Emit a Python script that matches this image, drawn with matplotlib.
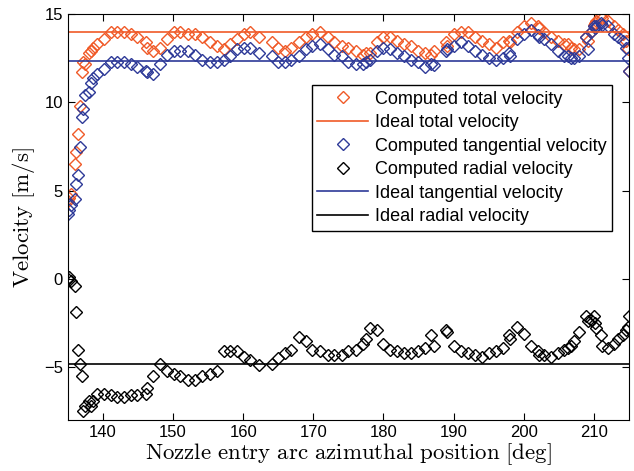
import matplotlib
matplotlib.use("Agg")
from matplotlib import pyplot as plt

# azimuthal position [deg]
angle = [135.0, 135.2, 135.4, 136.0, 136.2, 136.4, 136.7, 137.0, 137.2, 137.5,
         138.0, 138.3, 138.6, 139.1, 140.1,
         141.1, 142.0, 143.0, 144.0, 144.9, 146.1, 146.3, 147.2, 148.2, 149.1,
         150.1, 151.0, 152.1, 153.1, 154.2, 155.2, 156.2, 157.2, 158.1, 159.1,
         160.1, 161.0, 162.2, 164.1, 165.0, 166.0, 166.8, 168.0, 168.9, 169.8,
         171.0, 172.1, 173.0, 174.1, 175.0, 176.1, 177.1, 177.5, 178.1, 179.1,
         180.0, 181.0, 182.0, 182.9, 183.9, 184.9, 185.9, 186.8, 187.2, 188.9,
         189.1, 190.0, 191.0, 192.0, 193.1, 194.1, 195.0, 196.0, 197.0, 197.9,
         198.1, 199.1, 200.0, 201.0, 202.0, 202.2, 202.9, 203.9, 204.9, 205.7,
         206.3, 206.7, 207.2, 207.9, 208.9, 209.1, 209.6, 210.0, 210.1, 210.3,
         211.0, 211.1, 212.0, 212.9, 213.5, 214.1, 214.6, 214.9, 215.0]

total = [4.4, 4.6, 4.8, 6.5, 7.2, 8.2, 9.8, 11.7, 12.3, 12.2,
         12.8, 12.9, 13.1, 13.3, 13.6,
         14.0, 14.0, 14.0, 13.9, 13.7, 13.4, 13.1, 12.9, 13.1, 13.6,
         14.0, 14.0, 13.9, 13.9, 13.7, 13.4, 13.2, 13.0, 13.3, 13.6,
         13.9, 14.0, 13.7, 13.4, 13.1, 12.9, 13.1, 13.4, 13.7, 13.9,
         14.0, 13.7, 13.4, 13.2, 13.1, 12.9, 12.7, 12.8, 12.8, 13.4,
         13.7, 13.7, 13.5, 13.3, 13.2, 12.9, 12.8, 12.7, 12.9, 13.4,
         13.2, 13.9, 14.0, 14.0, 13.7, 13.5, 13.3, 13.1, 13.4, 13.5,
         13.4, 14.0, 14.3, 14.5, 14.3, 14.2, 14.0, 13.7, 13.5, 13.3,
         13.3, 13.1, 13.0, 13.0, 13.7, 13.5, 14.0, 14.4, 14.5, 14.6,
         15.0, 14.8, 14.6, 14.3, 14.1, 13.9, 13.5, 13.0, 11.8]

tangential = [3.7, 3.9, 4.2, 4.5, 5.4, 5.9, 7.5, 9.2, 9.6, 10.4,
              10.6, 11.1, 11.4, 11.6, 11.9,
              12.3, 12.3, 12.3, 12.2, 12.0, 11.8, 11.7, 11.6, 12.2, 12.7,
              12.9, 12.9, 12.9, 12.7, 12.4, 12.3, 12.3, 12.4, 12.6, 13.0,
              13.1, 13.1, 12.8, 12.6, 12.3, 12.3, 12.4, 12.6, 13.0, 13.2,
              13.3, 13.0, 12.7, 12.6, 12.3, 12.2, 12.2, 12.3, 12.4, 12.9,
              13.1, 13.0, 12.8, 12.6, 12.4, 12.3, 12.0, 12.2, 12.1, 12.9,
              13.0, 13.2, 13.4, 13.2, 12.9, 12.7, 12.5, 12.4, 12.5, 12.8,
              12.6, 13.6, 13.9, 14.1, 13.8, 13.7, 13.6, 13.3, 12.9, 12.6,
              12.6, 12.5, 12.5, 12.6, 13.7, 13.0, 14.0, 14.3, 14.2, 14.3,
              14.5, 14.4, 14.3, 13.9, 13.7, 13.5, 13.1, 12.5, 11.8]

radial = [0.0, 0.1, -0.1, -0.4, -1.9, -4.0, -4.8, -5.5, -7.5, -7.2,
          -6.9, -7.2, -6.9, -6.5, -6.5,
          -6.6, -6.7, -6.7, -6.6, -6.6, -6.5, -6.2, -5.5, -4.8, -5.2,
          -5.4, -5.5, -5.7, -5.7, -5.5, -5.4, -5.2, -4.1, -4.1, -4.1,
          -4.4, -4.6, -4.9, -4.8, -4.5, -4.2, -4.0, -3.3, -3.5, -4.0,
          -4.1, -4.3, -4.3, -4.3, -4.1, -4.0, -3.7, -3.4, -2.8, -2.9,
          -3.7, -4.0, -4.1, -4.2, -4.2, -4.1, -3.9, -3.2, -3.8, -2.9,
          -3.0, -3.8, -4.1, -4.2, -4.3, -4.4, -4.2, -4.1, -3.9, -3.2,
          -3.4, -2.7, -3.1, -3.8, -4.1, -4.3, -4.3, -4.4, -4.2, -4.0,
          -3.9, -3.8, -3.5, -3.0, -2.1, -2.4, -2.3, -2.1, -2.5, -2.8,
          -3.2, -3.8, -3.9, -3.7, -3.4, -3.2, -2.9, -2.7, -2.1]

ideal_total = 14.0
ideal_tangential = 12.35
ideal_radial = -4.82

orange = '#F05A28'
blue = '#2E3A98'

plt.rcParams['mathtext.fontset'] = 'cm'
plt.rcParams['font.family'] = ['Liberation Sans', 'DejaVu Sans']

fig = plt.figure(figsize=(6.34, 4.71), dpi=100)
ax = fig.add_axes([0.107, 0.108, 0.885, 0.862])

mk = dict(linestyle='', marker='D', markersize=5.8, markerfacecolor='none',
          markeredgewidth=1.0)
p_tot, = ax.plot(angle, total, color=orange, **mk)
p_tan, = ax.plot(angle, tangential, color=blue, **mk)
p_rad, = ax.plot(angle, radial, color='black', **mk)

l_tot = ax.axhline(ideal_total, color=orange, lw=1.2)
l_tan = ax.axhline(ideal_tangential, color=blue, lw=1.2)
l_rad = ax.axhline(ideal_radial, color='black', lw=1.2)

ax.set_xlim(135, 215)
ax.set_ylim(-8, 15)
ax.set_xticks([140, 150, 160, 170, 180, 190, 200, 210])
ax.set_yticks([-5, 0, 5, 10, 15])
ax.tick_params(direction='in', top=True, right=True, labelsize=12, length=5)
ax.set_yticklabels(['\u22125', '0', '5', '10', '15'])

ax.set_xlabel(r'$\mathrm{Nozzle\ entry\ arc\ azimuthal\ position\ [deg]}$',
              fontsize=16.5, labelpad=1)
ax.set_ylabel(r'$\mathrm{Velocity\ [m/s]}$', fontsize=16.5, labelpad=5)

handles = [p_tot, l_tot, p_tan, p_rad, l_tan, l_rad]
labels = ['Computed total velocity', 'Ideal total velocity',
          'Computed tangential velocity', 'Computed radial velocity',
          'Ideal tangential velocity', 'Ideal radial velocity']
leg = ax.legend(handles, labels, loc='upper right', bbox_to_anchor=(0.97, 0.825),
                borderaxespad=0, fontsize=13, fancybox=False, edgecolor='black',
                framealpha=1, handlelength=2.8, labelspacing=0.36, borderpad=0.3,
                handletextpad=0.4)
leg.get_frame().set_linewidth(1.0)

fig.savefig('out.png', dpi=100)
